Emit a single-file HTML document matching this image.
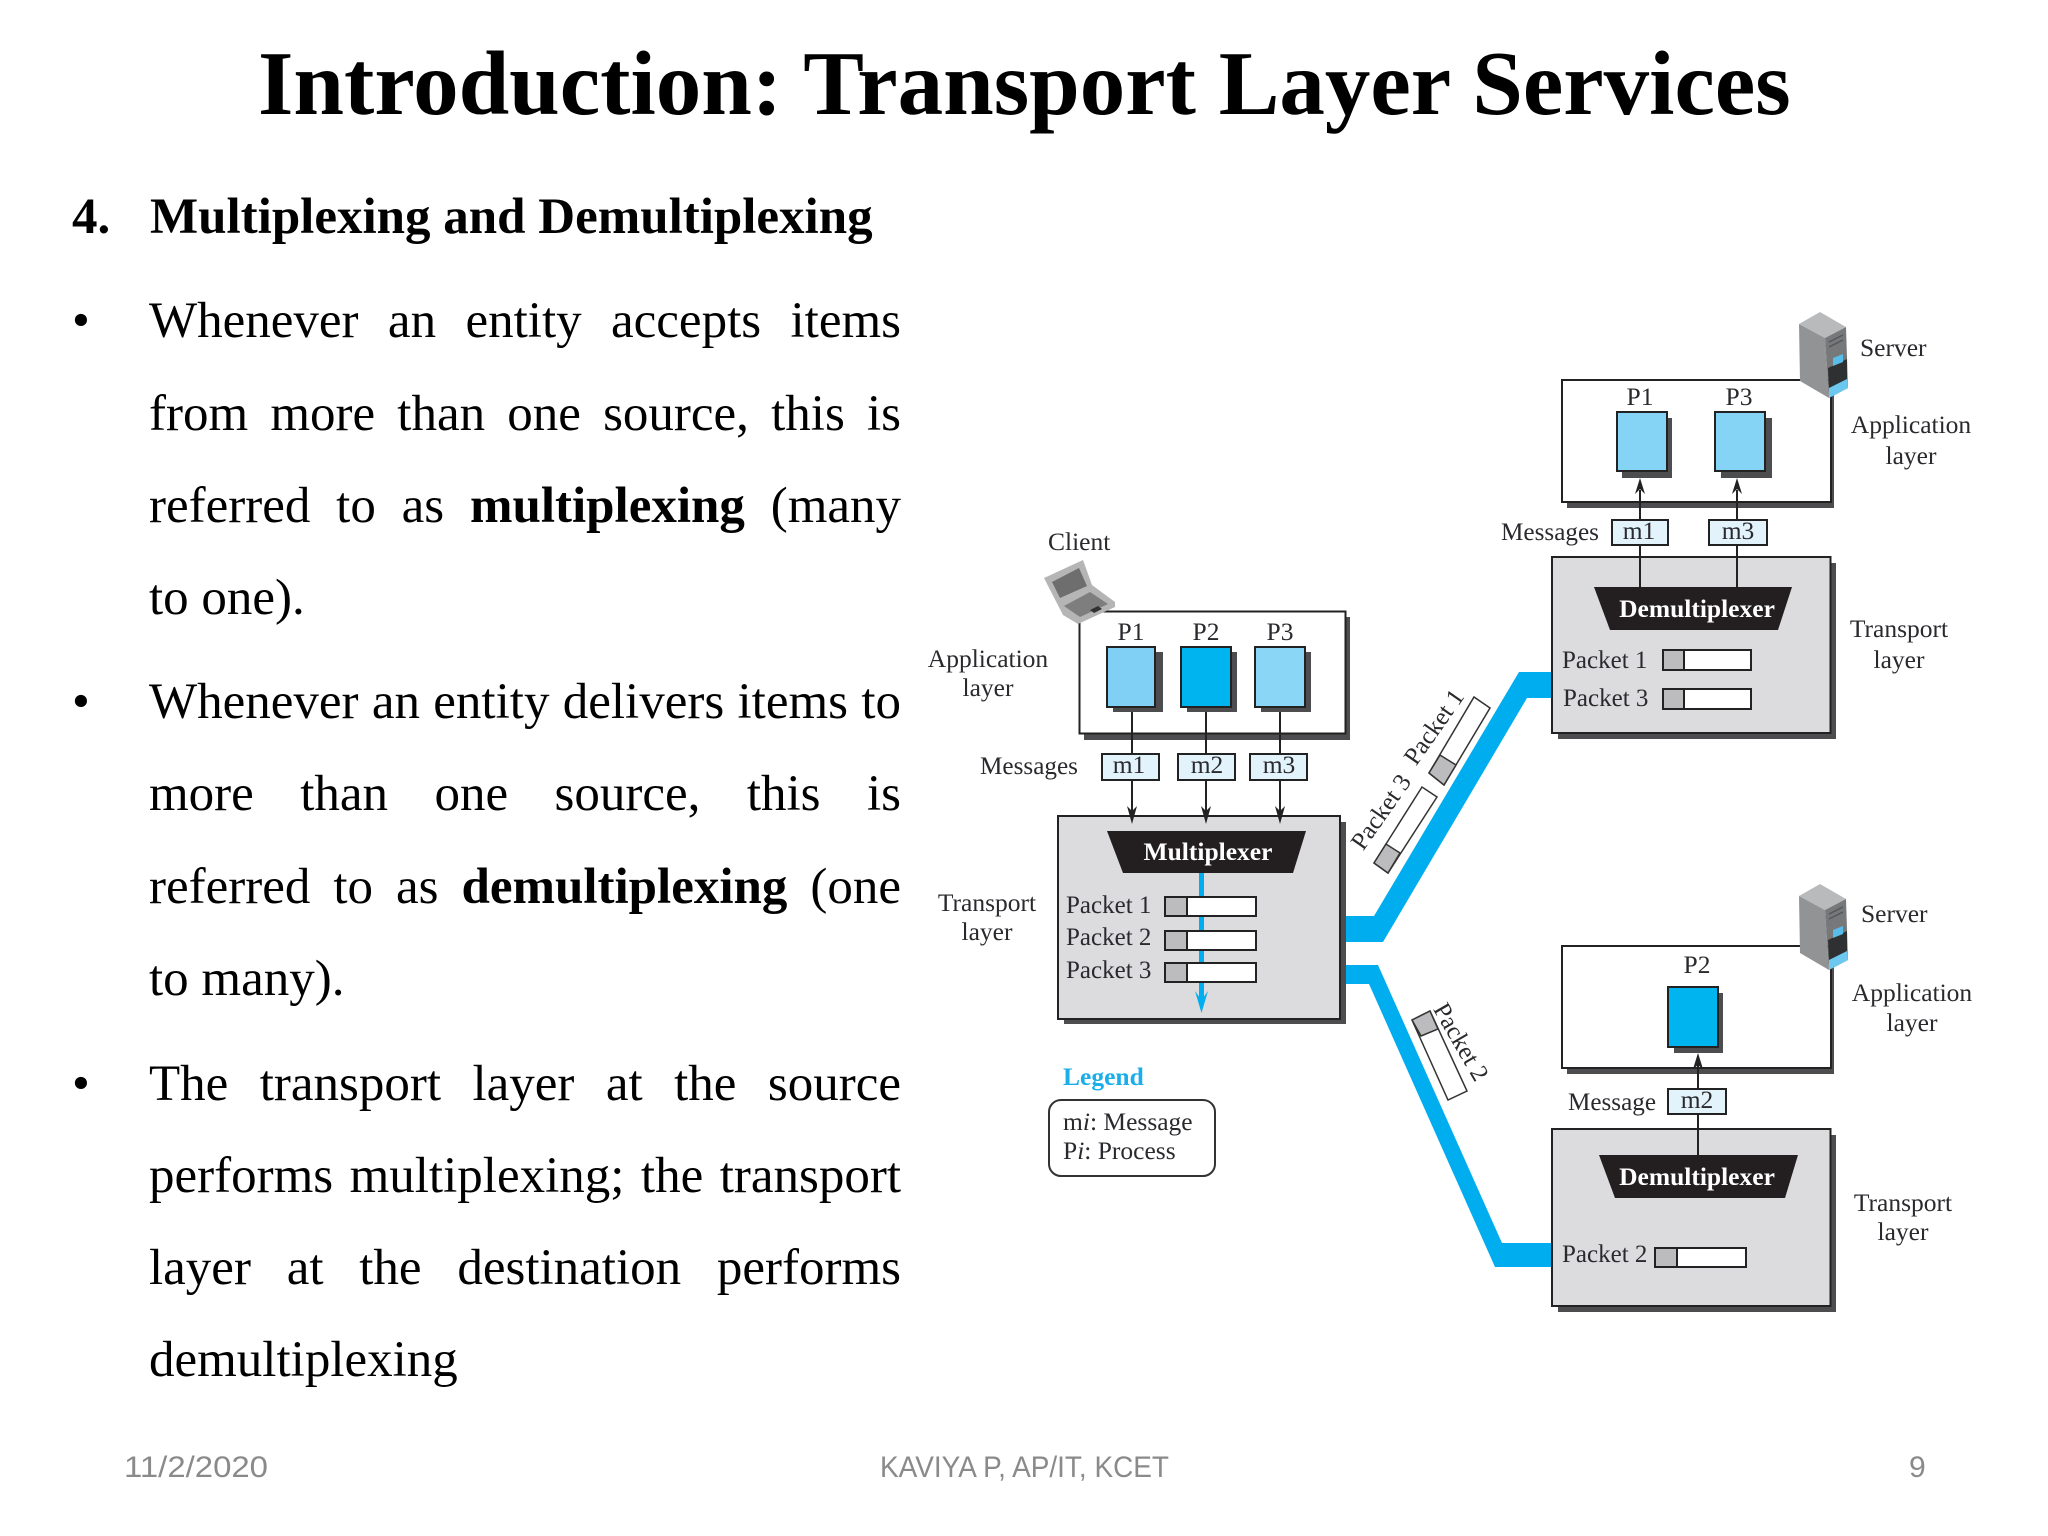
<!DOCTYPE html>
<html><head><meta charset="utf-8">
<style>
html,body{margin:0;padding:0;background:#fff;width:2048px;height:1536px;overflow:hidden}
#w{position:relative;width:2048px;height:1536px;overflow:hidden}
.t{position:absolute;font-family:"Liberation Serif",serif;font-size:51px;line-height:60px;color:#000;white-space:nowrap}
.j{left:149px;width:752px;text-align:justify;text-align-last:justify;white-space:normal}
svg{position:absolute;left:0;top:0}
svg text{font-family:"Liberation Serif",serif;font-size:25.500px;fill:#2a2a2e}
svg text:not(.r):not(.f){transform:translate(0,-1px)}
.c{text-anchor:middle}
svg text.f{font-family:"Liberation Sans",sans-serif;font-size:30px;fill:#8a8a8a}
svg text.pk{font-size:25px}
svg text.b{font-weight:bold;fill:#fff;font-size:25.500px;text-anchor:middle}
</style></head><body><div id="w">
<div class="t" style="left:258px;top:34px;font-size:91px;line-height:100px;font-weight:bold">Introduction: Transport Layer Services</div>
<div class="t" style="left:72px;top:187px;font-weight:bold">4.</div>
<div class="t" style="left:150px;top:187px;font-weight:bold">Multiplexing and Demultiplexing</div>

<div class="t" style="left:72px;top:291px">•</div>
<div class="t j" style="top:291px">Whenever an entity accepts items</div>
<div class="t j" style="top:384px">from more than one source, this is</div>
<div class="t j" style="top:476px">referred to as <b>multiplexing</b> (many</div>
<div class="t" style="left:149px;top:568px">to one).</div>

<div class="t" style="left:72px;top:672px">•</div>
<div class="t j" style="top:672px">Whenever an entity delivers items to</div>
<div class="t j" style="top:764px">more than one source, this is</div>
<div class="t j" style="top:857px">referred to as <b>demultiplexing</b> (one</div>
<div class="t" style="left:149px;top:949px">to many).</div>

<div class="t" style="left:72px;top:1054px">•</div>
<div class="t j" style="top:1054px">The transport layer at the source</div>
<div class="t j" style="top:1146px">performs multiplexing; the transport</div>
<div class="t j" style="top:1238px">layer at the destination performs</div>
<div class="t" style="left:149px;top:1330px">demultiplexing</div>

<svg width="2048" height="1536" viewBox="0 0 2048 1536" xmlns="http://www.w3.org/2000/svg">
<!-- thick blue links -->
<polygon points="1340,916 1374,916 1519,672 1556,672 1556,698 1527,698 1383,942 1340,942" fill="#00aeef"/>
<polygon points="1340,965 1378,965 1502,1243 1556,1243 1556,1267 1495,1267 1369,984 1340,984" fill="#00aeef"/>

<!-- client app layer -->
<rect x="1084" y="617" width="266" height="123" fill="#4d4d4f"/>
<rect x="1079.5" y="611.5" width="266" height="122" fill="#fff" stroke="#222" stroke-width="2"/>
<rect x="1113" y="652" width="50" height="60" fill="#4d4d4f"/>
<rect x="1107" y="647" width="48" height="60" fill="#7fd0f4" stroke="#222" stroke-width="2"/>
<rect x="1187" y="652" width="50" height="60" fill="#4d4d4f"/>
<rect x="1181" y="647" width="50" height="60" fill="#00b4f0" stroke="#222" stroke-width="2"/>
<rect x="1261" y="652" width="50" height="60" fill="#4d4d4f"/>
<rect x="1255" y="647" width="50" height="60" fill="#8ad6f6" stroke="#222" stroke-width="2"/>
<text class="c" x="1131" y="641">P1</text><text class="c" x="1206" y="641">P2</text><text class="c" x="1280" y="641">P3</text>

<!-- multiplexer box -->
<rect x="1064" y="822" width="282" height="202" fill="#4d4d4f"/>
<rect x="1058" y="816" width="282" height="203" fill="#dcdbdd" stroke="#222" stroke-width="2"/>
<path d="M1132 712V820M1206 712V820M1280 712V820" stroke="#222" stroke-width="2" fill="none"/>
<polygon points="1127,806 1132,811 1137,806 1132,824" fill="#222"/>
<polygon points="1201,806 1206,811 1211,806 1206,824" fill="#222"/>
<polygon points="1275,806 1280,811 1285,806 1280,824" fill="#222"/>
<rect x="1102" y="754" width="57" height="26" fill="#e2f3fc" stroke="#222" stroke-width="2"/>
<rect x="1178" y="754" width="57" height="26" fill="#e2f3fc" stroke="#222" stroke-width="2"/>
<rect x="1250" y="754" width="57" height="26" fill="#e2f3fc" stroke="#222" stroke-width="2"/>
<text class="c" x="1129" y="774">m1</text><text class="c" x="1207" y="774">m2</text><text class="c" x="1279" y="774">m3</text>
<text x="980" y="775" textLength="98" lengthAdjust="spacingAndGlyphs">Messages</text>
<polygon points="1107,831 1306,831 1293,873 1123,873" fill="#231f20"/>
<text class="b" x="1208" y="861">Multiplexer</text>
<rect x="1199" y="873" width="5" height="128" fill="#00aeef"/>
<polygon points="1195,991 1201.5,1000 1208,991 1201.5,1013" fill="#00aeef"/>
<g stroke="#222" stroke-width="2">
<rect x="1165" y="897" width="91" height="19" fill="#fff"/><rect x="1165" y="897" width="22" height="19" fill="#bcbcbe"/>
<rect x="1165" y="931" width="91" height="19" fill="#fff"/><rect x="1165" y="931" width="22" height="19" fill="#bcbcbe"/>
<rect x="1165" y="963" width="91" height="19" fill="#fff"/><rect x="1165" y="963" width="22" height="19" fill="#bcbcbe"/>
</g>
<text class="pk" x="1066" y="914">Packet 1</text><text class="pk" x="1066" y="946">Packet 2</text><text class="pk" x="1066" y="979">Packet 3</text>
<text x="1048" y="551">Client</text>
<text class="c" x="988" y="668">Application</text><text class="c" x="988" y="697">layer</text>
<text class="c" x="987" y="912">Transport</text><text class="c" x="987" y="941">layer</text>

<!-- laptop -->
<polygon points="1044,578 1083,560 1092,585 1115,602 1115,607 1078,624 1063,615" fill="#b5b5b5"/>
<polygon points="1052,582 1079,568 1087,586 1060,598" fill="#6e6e6e"/>
<polygon points="1064,606 1090,592 1108,604 1080,617" fill="#7e7e7e"/>
<polygon points="1090,610 1098,606 1102,609 1094,613" fill="#333"/>

<!-- legend -->
<text x="1063" y="1086" style="fill:#1aaeea;font-weight:bold">Legend</text>
<rect x="1049" y="1100" width="166" height="76" rx="12" fill="#fff" stroke="#333" stroke-width="2"/>
<text x="1063" y="1131">m<tspan font-style="italic">i</tspan>: Message</text>
<text x="1063" y="1160">P<tspan font-style="italic">i</tspan>: Process</text>

<!-- in-flight packets -->
<g stroke="#333" stroke-width="1.5">
<polygon points="1429,773 1444,785 1490,708 1474,697" fill="#fff"/>
<polygon points="1429,773 1444,785 1456,765 1440,755" fill="#bcbcbe"/>
<polygon points="1374,863 1388,873 1437,797 1422,787" fill="#fff"/>
<polygon points="1374,863 1388,873 1400,853 1386,844" fill="#bcbcbe"/>
<polygon points="1412,1020 1430,1011 1467,1091 1448,1100" fill="#fff"/>
<polygon points="1412,1020 1430,1011 1438,1029 1421,1036" fill="#bcbcbe"/>
</g>
<text class="c pk r" transform="translate(1434 727) rotate(-55)" x="0" y="8">Packet 1</text>
<text class="c pk r" transform="translate(1381 812) rotate(-55)" x="0" y="8">Packet 3</text>
<text class="c pk r" transform="translate(1461 1042) rotate(60)" x="0" y="8">Packet 2</text>

<!-- top server app -->
<rect x="1567" y="386" width="267" height="122" fill="#4d4d4f"/>
<rect x="1562" y="380" width="269" height="122" fill="#fff" stroke="#222" stroke-width="2"/>
<rect x="1622" y="418" width="50" height="60" fill="#4d4d4f"/>
<rect x="1617" y="412" width="50" height="59" fill="#86d4f5" stroke="#222" stroke-width="2"/>
<rect x="1721" y="418" width="51" height="60" fill="#4d4d4f"/>
<rect x="1715" y="412" width="50" height="59" fill="#86d4f5" stroke="#222" stroke-width="2"/>
<text class="c" x="1640" y="406">P1</text><text class="c" x="1739" y="406">P3</text>

<!-- top demux -->
<rect x="1558" y="563" width="278" height="176" fill="#4d4d4f"/>
<rect x="1552" y="557" width="278.500" height="176" fill="#dcdbdd" stroke="#222" stroke-width="2"/>
<path d="M1640 490V587M1737 490V587" stroke="#222" stroke-width="2" fill="none"/>
<polygon points="1635,494 1640,489 1645,494 1640,478" fill="#222"/>
<polygon points="1732,494 1737,489 1742,494 1737,478" fill="#222"/>
<rect x="1612" y="520" width="56" height="25" fill="#e2f3fc" stroke="#222" stroke-width="2"/>
<rect x="1709" y="520" width="58" height="25" fill="#e2f3fc" stroke="#222" stroke-width="2"/>
<text class="c" x="1639" y="540">m1</text><text class="c" x="1738" y="540">m3</text>
<text x="1501" y="541" textLength="98" lengthAdjust="spacingAndGlyphs">Messages</text>
<polygon points="1594,587 1792,587 1778,630 1610,630" fill="#231f20"/>
<text class="b" x="1697" y="618">Demultiplexer</text>
<g stroke="#222" stroke-width="2">
<rect x="1663" y="650" width="88" height="20" fill="#fff"/><rect x="1663" y="650" width="21" height="20" fill="#bcbcbe"/>
<rect x="1663" y="689" width="88" height="20" fill="#fff"/><rect x="1663" y="689" width="21" height="20" fill="#bcbcbe"/>
</g>
<text class="pk" x="1562" y="669">Packet 1</text><text class="pk" x="1563" y="707">Packet 3</text>
<text class="c" x="1911" y="434">Application</text><text class="c" x="1911" y="465">layer</text>
<text class="c" x="1899" y="638">Transport</text><text class="c" x="1899" y="669">layer</text>
<text x="1860" y="357">Server</text>

<!-- top server icon -->
<g>
<polygon points="1820,312 1846,327 1825,338 1799,324" fill="#b9babc"/>
<polygon points="1799,324 1825,338 1829,398 1800,381" fill="#929395"/>
<polygon points="1825,338 1846,327 1848,388 1829,398" fill="#77787a"/>
<polygon points="1828,368 1847,359 1847,380 1829,390" fill="#2f3032"/>
<polygon points="1829,388 1847,379 1848,388 1829,398" fill="#6cc8ef"/>
<polygon points="1833,358 1843,354 1843,362 1833,366" fill="#58bde8"/>
<path d="M1829 342L1843 335M1829 347L1843 340" stroke="#55565a" stroke-width="1.500"/>
</g>

<!-- bottom server app -->
<rect x="1567" y="952" width="267" height="122" fill="#4d4d4f"/>
<rect x="1562" y="946" width="269" height="122" fill="#fff" stroke="#222" stroke-width="2"/>
<rect x="1674" y="993" width="49" height="60" fill="#4d4d4f"/>
<rect x="1668" y="987" width="50" height="60" fill="#00b4f0" stroke="#222" stroke-width="2"/>
<text class="c" x="1697" y="974">P2</text>

<!-- bottom demux -->
<rect x="1558" y="1135" width="278" height="177" fill="#4d4d4f"/>
<rect x="1552" y="1129" width="278.500" height="177" fill="#dcdbdd" stroke="#222" stroke-width="2"/>
<path d="M1698 1065V1155" stroke="#222" stroke-width="2" fill="none"/>
<polygon points="1693,1069 1698,1065 1703,1069 1698,1053" fill="#222"/>
<rect x="1668" y="1089" width="58" height="25" fill="#e2f3fc" stroke="#222" stroke-width="2"/>
<text class="c" x="1697" y="1109">m2</text>
<text x="1568" y="1111" textLength="88" lengthAdjust="spacingAndGlyphs">Message</text>
<polygon points="1599,1155 1798,1155 1785,1198 1615,1198" fill="#231f20"/>
<text class="b" x="1697" y="1186">Demultiplexer</text>
<g stroke="#222" stroke-width="2">
<rect x="1655" y="1248" width="91" height="19" fill="#fff"/><rect x="1655" y="1248" width="22" height="19" fill="#bcbcbe"/>
</g>
<text class="pk" x="1562" y="1263">Packet 2</text>
<text class="c" x="1912" y="1002">Application</text><text class="c" x="1912" y="1032">layer</text>
<text class="c" x="1903" y="1212">Transport</text><text class="c" x="1903" y="1241">layer</text>
<text x="1861" y="923">Server</text>

<!-- bottom server icon -->
<g transform="translate(0,572)">
<polygon points="1820,312 1846,327 1825,338 1799,324" fill="#b9babc"/>
<polygon points="1799,324 1825,338 1829,398 1800,381" fill="#929395"/>
<polygon points="1825,338 1846,327 1848,388 1829,398" fill="#77787a"/>
<polygon points="1828,368 1847,359 1847,380 1829,390" fill="#2f3032"/>
<polygon points="1829,388 1847,379 1848,388 1829,398" fill="#6cc8ef"/>
<polygon points="1833,358 1843,354 1843,362 1833,366" fill="#58bde8"/>
<path d="M1829 342L1843 335M1829 347L1843 340" stroke="#55565a" stroke-width="1.500"/>
</g>

<!-- footer -->
<text class="f" x="124" y="1477" textLength="144" lengthAdjust="spacingAndGlyphs">11/2/2020</text>
<text class="f" x="880" y="1477" textLength="289" lengthAdjust="spacingAndGlyphs">KAVIYA P, AP/IT, KCET</text>
<text class="f" x="1909" y="1477">9</text>
</svg>
</div></body></html>
